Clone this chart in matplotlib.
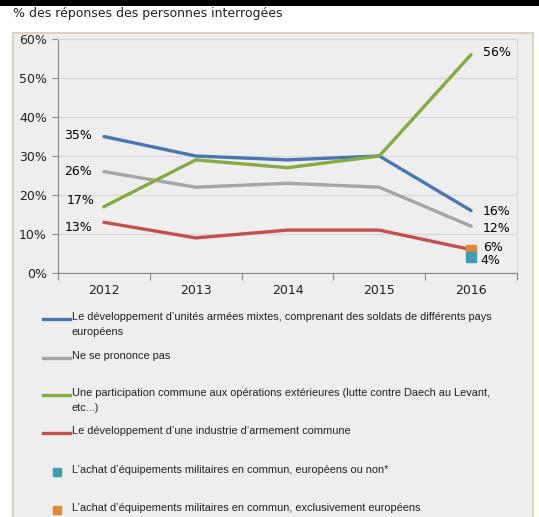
import matplotlib
matplotlib.use('Agg')
import matplotlib.pyplot as plt
from matplotlib.patches import Rectangle
from matplotlib.lines import Line2D

years = ['2012', '2013', '2014', '2015', '2016']
unites = [35, 30, 29, 30, 16]
nspp = [26, 22, 23, 22, 12]
opex = [17, 29, 27, 30, 56]
industrie = [13, 9, 11, 11, 6]
achat_tous = 4
achat_europe = 6

yticks = [0, 10, 20, 30, 40, 50, 60]

labels = [
    "Le d\u00e9veloppement d\u2019unit\u00e9s arm\u00e9es mixtes, comprenant des soldats de diff\u00e9rents pays\neurop\u00e9ens",
    "Ne se prononce pas",
    "Une participation commune aux op\u00e9rations ext\u00e9rieures (lutte contre Daech au Levant,\netc...)",
    "Le d\u00e9veloppement d\u2019une industrie d\u2019armement commune",
    "L\u2019achat d\u2019\u00e9quipements militaires en commun, europ\u00e9ens ou non*",
    "L\u2019achat d\u2019\u00e9quipements militaires en commun, exclusivement europ\u00e9ens",
]

c_blue = '#4a76b0'
c_gray = '#a5a5a5'
c_green = '#86aa42'
c_red = '#c4504d'
c_teal = '#3f9cb2'
c_orange = '#e0883a'

W, H = 539, 517
fig = plt.figure(figsize=(W / 100, H / 100), dpi=100)
fig.patch.set_facecolor('white')

# black band and panel
fig.add_artist(Rectangle((0, 1 - 6 / H), 1, 6 / H, transform=fig.transFigure,
                         facecolor='black', edgecolor='none', zorder=-2))
fig.add_artist(Rectangle((13 / W, -0.01), (533 - 13) / W, (H - 33) / H + 0.01,
                         transform=fig.transFigure, facecolor='#eeeeee',
                         edgecolor='#d6ceaa', linewidth=1.2, zorder=-2))
fig.text(13 / W, 1 - 14 / H, "% des r\u00e9ponses des personnes interrog\u00e9es",
         fontsize=9, va='center', ha='left', color='#222222')

ax = fig.add_axes([58 / W, 1 - 273 / H, (517 - 58) / W, (273 - 39) / H])
ax.set_facecolor('#eeeeee')

x = list(range(len(years)))
lw = 2.4
ax.plot(x, unites, color=c_blue, lw=lw, solid_capstyle='round')
ax.plot(x, nspp, color=c_gray, lw=lw, solid_capstyle='round')
ax.plot(x, opex, color=c_green, lw=lw, solid_capstyle='round')
ax.plot(x, industrie, color=c_red, lw=lw, solid_capstyle='round')
ax.plot([4], [achat_europe], 's', color=c_orange, ms=6.5, zorder=5)
ax.plot([4], [achat_tous], 's', color=c_teal, ms=6.5, zorder=5)

ax.set_xlim(-0.5, 4.5)
ax.set_ylim(0, 60)
ax.set_yticks(yticks)
ax.set_yticklabels(['{}%'.format(v) for v in yticks], fontsize=9, color='#222222')
ax.set_xticks([i + 0.5 for i in range(-1, 5)])
ax.set_xticklabels([])
ax.set_xticks(x, minor=True)
ax.set_xticklabels(years, minor=True, fontsize=9, color='#222222')
ax.tick_params(axis='x', which='minor', length=0, pad=8)
ax.tick_params(axis='x', which='major', length=5, color='#888888', direction='out')
ax.tick_params(axis='y', length=4, color='#888888', direction='out', pad=4)
ax.yaxis.grid(True, color='#d9d9d9', lw=1)
ax.set_axisbelow(True)
for s in ['top', 'right']:
    ax.spines[s].set_color('#d9d9d9')
for s in ['left', 'bottom']:
    ax.spines[s].set_color('#888888')

# data labels
fs = 9
ax.text(-0.13, unites[0] + 0.2, '{}%'.format(unites[0]), fontsize=fs, ha='right', va='center')
ax.text(-0.13, nspp[0], '{}%'.format(nspp[0]), fontsize=fs, ha='right', va='center')
ax.text(-0.10, opex[0] + 1.7, '{}%'.format(opex[0]), fontsize=fs, ha='right', va='center')
ax.text(-0.12, industrie[0] - 1.3, '{}%'.format(industrie[0]), fontsize=fs, ha='right', va='center')
ax.text(4.13, opex[4] + 0.5, '{}%'.format(opex[4]), fontsize=fs, ha='left', va='center')
ax.text(4.13, unites[4] - 0.3, '{}%'.format(unites[4]), fontsize=fs, ha='left', va='center')
ax.text(4.13, nspp[4] - 0.7, '{}%'.format(nspp[4]), fontsize=fs, ha='left', va='center')
ax.text(4.13, achat_europe + 0.6, '{}%'.format(achat_europe), fontsize=fs, ha='left', va='center')
ax.text(4.10, achat_tous - 0.9, '{}%'.format(achat_tous), fontsize=fs, ha='left', va='center')

# legend, drawn by hand in figure pixels
rows = [
    (319, c_blue, 'line'),
    (358, c_gray, 'line'),
    (395, c_green, 'line'),
    (433, c_red, 'line'),
    (472, c_teal, 'square'),
    (510, c_orange, 'square'),
]
for (ypix, col, kind), lab in zip(rows, labels):
    yf = 1 - ypix / H
    if kind == 'line':
        fig.add_artist(Line2D([43 / W, 70 / W], [yf, yf], color=col, lw=2.4,
                              transform=fig.transFigure))
    else:
        fig.add_artist(Line2D([57 / W], [yf], marker='s', ms=6, color=col,
                              linestyle='none', transform=fig.transFigure))
    fig.text(72 / W, yf + 7 / H, lab, fontsize=7.9, va='top', ha='left',
             family='Liberation Sans', color='#222222', linespacing=1.65)

fig.savefig('out.png', dpi=100)
